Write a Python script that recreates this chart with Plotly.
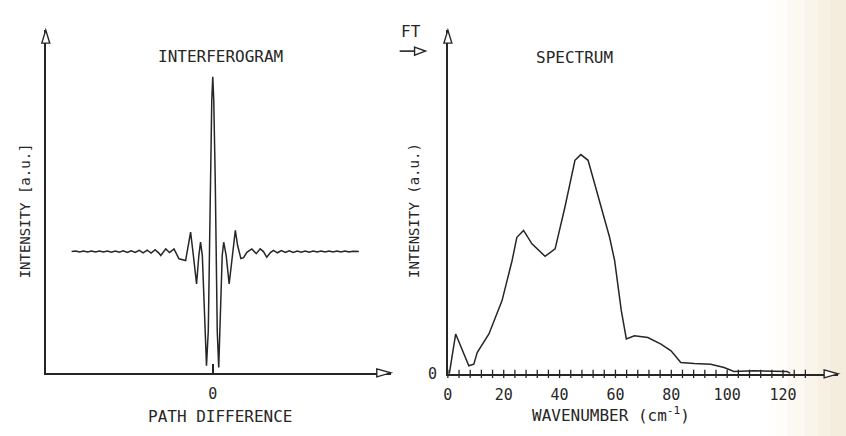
import plotly.graph_objects as go

# ---------------- data ----------------
# Interferogram (path difference, arbitrary units; intensity relative to baseline = 1)
path_diff = [-14.2, -13.8, -13.4, -13.0, -12.6, -12.2, -11.8, -11.4, -11.0, -10.6, -10.2, -9.8, -9.4,
             -9.0, -8.6, -8.2, -7.8, -7.4, -7.0, -6.6, -6.2, -5.8, -5.4, -5.23, -4.73, -4.35, -3.9,
             -3.4, -2.73, -2.45, -2.23, -1.95, -1.63, -1.4, -1.23, -1.05, -0.85, -0.63, -0.45, -0.25,
             -0.1, 0.0, 0.1, 0.25, 0.45, 0.6, 0.8, 0.95, 1.1, 1.35, 1.65, 1.95, 2.27, 2.5, 2.83, 3.1,
             3.43, 3.93, 4.37, 4.77, 5.1, 5.43, 5.8, 6.1, 6.5, 6.9, 7.3, 7.7, 8.1, 8.5, 8.9, 9.3, 9.7,
             10.1, 10.5, 10.9, 11.3, 11.7, 12.1, 12.5, 12.9, 13.3, 13.7, 14.1, 14.7]
interferogram = [1.000, 1.004, 0.996, 1.004, 0.996, 1.004, 0.996, 1.004, 0.996, 1.005, 0.995, 1.005, 0.995,
                 1.007, 0.993, 1.007, 0.993, 1.010, 0.990, 1.012, 0.988, 1.015, 0.985, 0.967, 1.022, 0.992, 1.022,
                 0.940, 0.926, 1.050, 1.160, 0.967, 0.733, 0.967, 1.077, 0.967, 0.595, 0.058, 0.347, 1.587,
                 2.248, 2.440, 2.248, 1.587, 0.347, 0.044, 0.595, 0.967, 1.077, 0.967, 0.733, 0.967, 1.174, 1.050, 0.942, 0.950,
                 0.994, 1.022, 0.983, 1.022, 1.000, 0.953, 0.992, 1.010, 0.990, 1.008, 0.992, 1.007, 0.993, 1.005, 0.995, 1.005, 0.995,
                 1.004, 0.996, 1.004, 0.996, 1.004, 0.996, 1.004, 0.996, 1.004, 0.996, 1.003, 1.000]

# Spectrum (wavenumber in cm^-1, intensity normalised to main peak = 100)
wavenumber = [0.5, 2.8, 7.5, 9.3, 10.5, 14.7, 19.4, 23.0, 24.7, 27.1, 30.1, 34.8, 38.4, 41.9, 45.5, 47.6,
              50.2, 53.8, 57.9, 59.7, 62.1, 63.9, 66.8, 71.6, 76.3, 79.9, 83.4, 88.2, 94.1, 98.9, 102.4,
              109.5, 121.4, 122.6]
spectrum = [0.0, 18.2, 3.7, 4.4, 9.7, 18.2, 33.4, 51.7, 62.3, 65.4, 59.3, 53.6, 57.0, 76.0, 97.4, 100.0,
            97.4, 80.6, 62.3, 51.7, 28.8, 15.9, 17.4, 16.6, 13.6, 10.5, 5.2, 4.7, 4.4, 2.9, 1.1,
            1.4, 1.1, 0.2]

spec_tick_vals = [0, 20, 40, 60, 80, 100, 120]
spec_tick_text = ["0", "20", "40", "60", "80", "100", "120"]
spec_minor_ticks = list(range(0, 129, 4))

# ---------------- layout constants ----------------
W, H = 846, 436
H_LAYOUT = 446        # compensates the ~10 px the page loses vertically
INK = "#262626"
FONT = "DejaVu Sans Mono, Liberation Mono, monospace"

def px(x):
    return x / W

def py(y):
    return 1 - y / H

L_XR = [-16.8, 17.9]
L_YR = [0, 2.826]
R_XR = [0, 139.7]
R_YR = [0, 156.8]

fig = go.Figure()

fig.add_trace(go.Scatter(x=path_diff, y=interferogram, mode="lines",
                         line=dict(color=INK, width=1.5), xaxis="x", yaxis="y",
                         hoverinfo="skip", cliponaxis=False))

fig.add_trace(go.Scatter(x=wavenumber, y=spectrum, mode="lines",
                         line=dict(color=INK, width=1.5), xaxis="x2", yaxis="y2",
                         hoverinfo="skip", cliponaxis=False))

fig.add_trace(go.Scatter(x=spec_minor_ticks, y=[0] * len(spec_minor_ticks), mode="markers",
                         marker=dict(symbol="line-ns", size=6, line=dict(color=INK, width=1.3)),
                         xaxis="x2", yaxis="y2", hoverinfo="skip", cliponaxis=False))

axis_common = dict(showgrid=False, zeroline=False, showline=True, linecolor=INK, linewidth=1.5,
                   tickfont=dict(family=FONT, size=15, color=INK))

fig.update_layout(
    width=W, height=H_LAYOUT, margin=dict(l=0, r=0, t=0, b=0),
    paper_bgcolor="white", plot_bgcolor="rgba(0,0,0,0)", showlegend=False,
    xaxis=dict(domain=[px(41), px(388)], range=L_XR, anchor="y",
               tickvals=[0], ticktext=["0"], ticks="inside", ticklen=9, tickwidth=1.5, tickcolor=INK,
               ticklabelstandoff=6, **axis_common),
    yaxis=dict(domain=[py(372), py(30)], range=L_YR, anchor="x",
               showticklabels=False, ticks="", **axis_common),
    xaxis2=dict(domain=[px(445.5), px(838)], range=R_XR, anchor="y2",
                tickvals=spec_tick_vals, ticktext=spec_tick_text, ticks="",
                ticklabelstandoff=6, **axis_common),
    yaxis2=dict(domain=[py(373), py(30)], range=R_YR, anchor="x2",
                tickvals=[0], ticktext=["0"], ticks="", ticklabelstandoff=6, **axis_common),
)

shapes = []
# scanned paper tint at the right edge
tint = [(770, 787, "#fefdfa"), (787, 804, "#fcf9f2"), (804, 817, "#faf5eb"),
        (817, 830, "#f7f0e3"), (830, 846, "#f4ecdc")]
for x0, x1, c in tint:
    shapes.append(dict(type="rect", xref="paper", yref="paper", x0=px(x0), x1=px(x1),
                       y0=-0.05, y1=1, fillcolor=c, line=dict(width=0), layer="below"))

def poly(points, fill="white"):
    d = "M " + " L ".join(f"{px(x):.5f},{py(y):.5f}" for x, y in points) + " Z"
    return dict(type="path", xref="paper", yref="paper", path=d, fillcolor=fill,
                line=dict(color=INK, width=1.4), layer="above")

def up_head(x, y):      # tip at (x, y) in page pixels
    return poly([(x - 4, y + 13), (x, y), (x + 4, y + 13)])

def right_head(x, y, ln=14, hw=4):
    return poly([(x - ln, y - hw), (x, y), (x - ln, y + hw)])

shapes.append(up_head(41, 30))
shapes.append(right_head(388, 372))
shapes.append(up_head(445.5, 30))
shapes.append(right_head(838, 373))
# FT arrow
shapes.append(dict(type="line", xref="paper", yref="paper", x0=px(397), x1=px(412),
                   y0=py(51), y1=py(51), line=dict(color=INK, width=1.6)))
shapes.append(right_head(423, 51, ln=11, hw=4))
fig.update_layout(shapes=shapes)

def txt(text, x, y, size=16, angle=0):
    return dict(text=text, x=px(x), y=py(y), xref="paper", yref="paper", showarrow=False,
                xanchor="center", yanchor="middle", textangle=angle,
                font=dict(family=FONT, size=size, color=INK))

fig.update_layout(annotations=[
    txt("INTERFEROGRAM", 217, 56),
    txt("SPECTRUM", 573, 57),
    txt("PATH DIFFERENCE", 217, 416),
    txt("WAVENUMBER (cm<sup>-1</sup>)", 610, 414),
    txt("INTENSITY [a.u.]", 21, 210, size=14, angle=-90),
    txt("INTENSITY (a.u.)", 412, 210, size=14, angle=-90),
    txt("FT", 408, 31),
])

fig.write_html("out.html", config={"displayModeBar": False},
               post_script="document.body.style.margin='0';document.body.style.overflow='hidden';")
